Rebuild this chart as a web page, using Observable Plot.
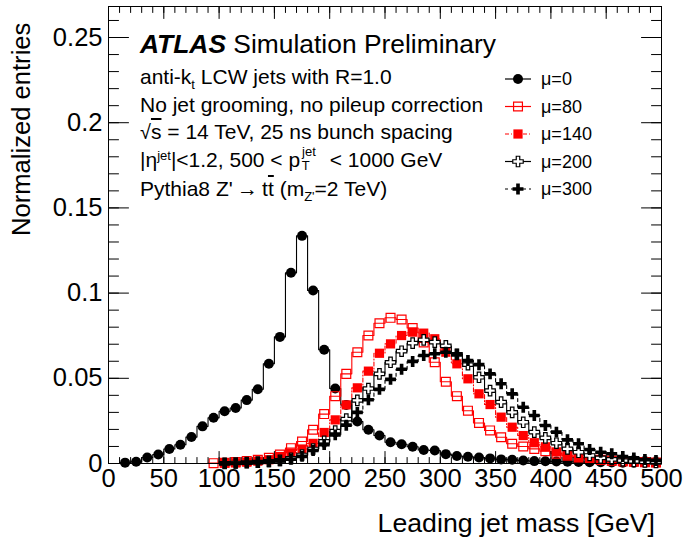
<!DOCTYPE html>
<html><head><meta charset="utf-8">
<script src="https://cdn.jsdelivr.net/npm/d3@7"></script>
<script src="https://cdn.jsdelivr.net/npm/@observablehq/plot@0.6"></script>
<style>
body{margin:0;background:#fff;}
#wrap{position:relative;width:683px;height:543px;font-family:"Liberation Sans",Arial,Helvetica,sans-serif;color:#000;}
.ann{position:absolute;white-space:nowrap;line-height:1;}
.l{font-size:21px;left:140px;}
sub,sup{font-size:0.62em;line-height:0;}
.stk{display:inline-block;position:relative;width:1.05em;height:1em;vertical-align:top;margin-left:0.08em;}
.stk .u{position:absolute;left:0.02em;top:-0.3em;font-size:0.62em;line-height:1;}
.stk .d{position:absolute;left:0;top:0.74em;font-size:0.62em;line-height:1;}
.ov{text-decoration:overline;}
</style></head><body><div id="wrap"></div>
<script>
// ---- data (bin width 10 GeV) ----
const binWidth = 10;
const start0 = 10, start80 = 90, start140 = 100, start200 = 100, start300 = 100;
const mu0 = [0.0005,0.001,0.0035,0.0053,0.0085,0.011,0.0155,0.0218,0.0268,0.0307,
  0.0326,0.0372,0.0436,0.0585,0.0743,0.1119,0.1336,0.1015,0.0668,0.044,
  0.0344,0.0246,0.0198,0.0164,0.0125,0.0113,0.0098,0.0079,0.0076,0.0055,
  0.0044,0.004,0.0035,0.003,0.0024,0.0022,0.0018,0.0014,0.0013,0.0012,
  0.001,0.0009,0.0008,0.0007,0.0006,0.0005,0.0005,0.0004,0.0004];
const mu80 = [0.0002,0.0004,0.0008,0.0014,0.0022,0.0033,0.0052,0.009,0.0129,0.0198,
  0.029,0.0395,0.0526,0.0653,0.0751,0.0823,0.0855,0.0845,0.0795,0.071,
  0.0594,0.048,0.0395,0.031,0.0238,0.0194,0.0154,0.0116,0.01,0.0086,
  0.0072,0.0058,0.0045,0.0036,0.0028,0.0022,0.0017,0.0013,0.001,0.0008,0.0006];
const mu140 = [0.0002,0.0004,0.0008,0.0014,0.0022,0.0041,0.006,0.0085,0.0118,0.0182,
  0.0256,0.0344,0.0444,0.0542,0.0647,0.0702,0.0751,0.0771,0.0765,0.0732,
  0.0653,0.0585,0.0497,0.0409,0.0346,0.0272,0.0213,0.0164,0.0122,0.0098,
  0.0068,0.0048,0.0035,0.0027,0.002,0.0015,0.0011,0.0009,0.0007,0.0005];
const mu200 = [0.0001,0.0003,0.0005,0.0008,0.0012,0.0018,0.003,0.005,0.0085,0.013,
  0.019,0.026,0.037,0.044,0.0526,0.0594,0.0659,0.0706,0.0726,0.0712,
  0.069,0.064,0.058,0.0506,0.0428,0.036,0.03,0.0242,0.0184,0.015,
  0.0119,0.0086,0.0066,0.0047,0.0033,0.0024,0.0017,0.0012,0.0009,0.0006];
const mu300 = [0.0001,0.0002,0.0004,0.0006,0.001,0.0016,0.0025,0.0042,0.0076,0.0111,
  0.0168,0.0225,0.03,0.0374,0.0435,0.0494,0.0553,0.0599,0.0634,0.0644,
  0.0653,0.0642,0.0604,0.058,0.0526,0.0468,0.0409,0.033,0.0282,0.0223,
  0.0184,0.0139,0.0116,0.0082,0.0066,0.0057,0.0041,0.0033,0.0023,0.0018];
const seriesLabels = ["μ=0","μ=80","μ=140","μ=200","μ=300"];
const xTickLabels = [0,50,100,150,200,250,300,350,400,450,500];
const yTickLabels = [0,0.05,0.1,0.15,0.2,0.25];
const xDomain = [0,500], yDomain = [0,0.2682];

// ---- styles ----
const styles = [
  {start:start0, vals:mu0, color:"black", dash:null, symbol:"circle", fill:"black", stroke:"none", r:5},
  {start:start80, vals:mu80, color:"#ff0000", dash:null, symbol:"square", fill:"none", stroke:"#ff0000", r:5},
  {start:start140, vals:mu140, color:"#ff0000", dash:"4,2,1,2", symbol:"square", fill:"#ff0000", stroke:"none", r:5.2},
  {start:start200, vals:mu200, color:"black", dash:null, symbol:"cross", fill:"white", stroke:"black", r:4.4},
  {start:start300, vals:mu300, color:"black", dash:"3,3", symbol:"cross", fill:"black", stroke:"none", r:4.6}
];

function hist(s){return s.vals.map((v,i)=>({lo:s.start+i*binWidth, c:s.start+i*binWidth+binWidth/2, v}));}
function steps(h){const p=h.map(d=>({x:d.lo,y:d.v}));const L=h[h.length-1];p.push({x:L.lo+binWidth,y:L.v});return p;}

const tickShape = {draw(ctx,l){ctx.moveTo(0,0);ctx.lineTo(0,-l);}};
const xMinor = d3.range(0,501,10), yMinor = d3.range(0,0.2601,0.01);

const marks = [];
styles.forEach(s=>{
  const h = hist(s);
  marks.push(Plot.line(steps(h),{x:"x",y:"y",curve:"step-after",stroke:s.color,strokeWidth:1.1,strokeDasharray:s.dash}));
  marks.push(Plot.dot(h,{x:"c",y:"v",symbol:s.symbol,r:s.r,fill:s.fill,stroke:s.stroke,strokeWidth:1.2}));
});
const tk = (data, o) => Plot.vector(data, {anchor:"start", shape:tickShape, stroke:"black", strokeWidth:1, ...o});
marks.push(
  tk(xMinor,{x:d=>d,frameAnchor:"bottom",rotate:0,length:6}),
  tk(xTickLabels,{x:d=>d,frameAnchor:"bottom",rotate:0,length:12}),
  tk(xMinor,{x:d=>d,frameAnchor:"top",rotate:180,length:6}),
  tk(xTickLabels,{x:d=>d,frameAnchor:"top",rotate:180,length:12}),
  tk(yMinor,{y:d=>d,frameAnchor:"left",rotate:90,length:10}),
  tk(yTickLabels,{y:d=>d,frameAnchor:"left",rotate:90,length:20}),
  tk(yMinor,{y:d=>d,frameAnchor:"right",rotate:270,length:10}),
  tk(yTickLabels,{y:d=>d,frameAnchor:"right",rotate:270,length:20}),
  Plot.frame({stroke:"black",strokeWidth:1}),
  Plot.axisX(xTickLabels,{tickSize:0,tickPadding:5,fontSize:25.5,label:null,tickFormat:d=>String(d)}),
  Plot.axisY(yTickLabels,{tickSize:0,tickPadding:6,fontSize:25.5,label:null,tickFormat:d=>String(d)})
);

const chart = Plot.plot({
  width:683, height:543,
  marginLeft:108, marginRight:22, marginTop:6, marginBottom:80,
  style:{fontFamily:"Liberation Sans, Arial, sans-serif", background:"white", color:"black"},
  x:{domain:xDomain, label:null, axis:null},
  y:{domain:yDomain, label:null, axis:null},
  marks
});
const wrap = document.getElementById("wrap");
wrap.appendChild(chart);

function ann(html, cls, css){const d=document.createElement("div");d.className="ann "+(cls||"");d.innerHTML=html;Object.assign(d.style,css);wrap.appendChild(d);return d;}
ann('<b><i>ATLAS</i></b> Simulation Preliminary','',{left:"140px",top:"31px",fontSize:"26.4px"});
ann('anti-k<sub style="vertical-align:-0.35em">t</sub> LCW jets with R=1.0','l',{top:"66px"});
ann('No jet grooming, no pileup correction','l',{top:"94px"});
ann('<span style="font-size:0.95em">&#8730;</span><span class="ov">s</span> = 14 TeV, 25 ns bunch spacing','l',{top:"121px"});
ann('|&eta;<sup style="vertical-align:0.55em">jet</sup>|&lt;1.2, 500 &lt; p<span class="stk"><span class="u">jet</span><span class="d">T</span></span> &lt; 1000 GeV','l',{top:"149px"});
ann('Pythia8 Z\'&#8201;&#8594;&#8201;t<span class="ov">t</span> (m<sub style="vertical-align:-0.4em">Z\'</sub>=2 TeV)','l',{top:"178px"});

// axis titles
ann('Normalized entries','',{left:"0px",top:"0px",fontSize:"25.6px",transformOrigin:"0 0",transform:"translate(9px,236px) rotate(-90deg)"});
const xt = ann('Leading jet mass [GeV]','',{top:"510px",fontSize:"26.7px"});
xt.style.left = (655 - xt.getBoundingClientRect().width) + "px";

// legend
const leg = d3.select(wrap).append("svg").attr("width",180).attr("height",150)
  .style("position","absolute").style("left","495px").style("top","64px");
const symMap = {circle:d3.symbolCircle, square:d3.symbolSquare, cross:d3.symbolCross};
styles.forEach((s,i)=>{
  const yy = 15 + i*27.5;
  leg.append("line").attr("x1",10).attr("x2",36).attr("y1",yy).attr("y2",yy)
    .attr("stroke",s.color).attr("stroke-width",1.2).attr("stroke-dasharray",s.dash);
  leg.append("path").attr("d",d3.symbol(symMap[s.symbol], s.r*s.r*Math.PI)())
    .attr("transform",`translate(23,${yy})`).attr("fill",s.fill).attr("stroke",s.stroke).attr("stroke-width",1.2);
  leg.append("text").attr("x",46).attr("y",yy).attr("dy","0.36em").attr("font-size",18)
    .attr("font-family","Liberation Sans, Arial, sans-serif").text(seriesLabels[i]);
});
</script></body></html>
